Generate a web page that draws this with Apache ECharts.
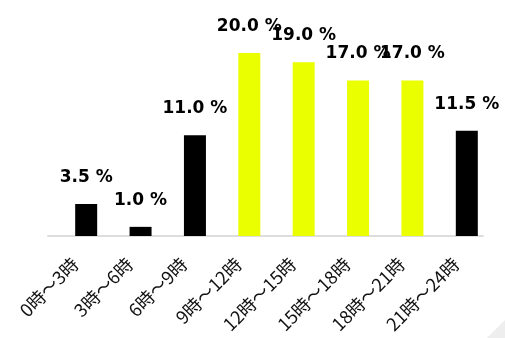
<!DOCTYPE html>
<html>
<head>
<meta charset="utf-8">
<script src="https://cdn.jsdelivr.net/npm/echarts@6/dist/echarts.min.js"></script>
<style>
html,body{margin:0;padding:0;background:#fff;}
#chart{width:505px;height:338px;}
</style>
</head>
<body>
<div id="chart"></div>
<script>
// 時間帯
var categories = ['0時〜3時','3時〜6時','6時〜9時','9時〜12時','12時〜15時','15時〜18時','18時〜21時','21時〜24時'];
// 割合(%)
var values = [3.5, 1.0, 11.0, 20.0, 19.0, 17.0, 17.0, 11.5];
// 強調する時間帯
var highlight = [false, false, false, true, true, true, true, false];

var barData = [];
for (var i = 0; i < values.length; i++) {
    barData.push({
        value: values[i],
        itemStyle: { color: highlight[i] ? '#eaff00' : '#000000' }
    });
}

var blank = [];
for (var j = 0; j < categories.length; j++) {
    blank.push('-');
}

var myChart = echarts.init(document.getElementById('chart'));
myChart.setOption({
    animation: false,
    grid: { left: 48, right: 22, top: 53, bottom: 102 },
    xAxis: {
        type: 'category',
        data: categories,
        axisLine: { lineStyle: { color: '#dddddd', width: 2 } },
        axisTick: { show: false },
        axisLabel: {
            rotate: 45,
            interval: 0,
            margin: 25,
            color: '#111',
            fontSize: 18,
            fontFamily: '"Noto Sans CJK JP", sans-serif'
        }
    },
    yAxis: {
        type: 'value',
        min: 0,
        max: 20,
        show: false,
        splitLine: { show: false }
    },
    series: [
        {
            type: 'bar',
            data: blank,
            barWidth: 22,
            barGap: '0%'
        },
        {
            type: 'bar',
            data: barData,
            barWidth: 22,
            barGap: '0%',
            label: {
                show: true,
                position: 'top',
                distance: 18,
                color: '#000',
                fontSize: 17,
                fontWeight: 'bold',
                fontFamily: '"DejaVu Sans", sans-serif',
                formatter: function (p) { return p.value.toFixed(1) + ' %'; }
            }
        }
    ],
    graphic: [{
        type: 'polygon',
        shape: { points: [[505, 320], [505, 338], [487, 338]] },
        style: { fill: '#eeeeee' }
    }]
});
</script>
</body>
</html>
